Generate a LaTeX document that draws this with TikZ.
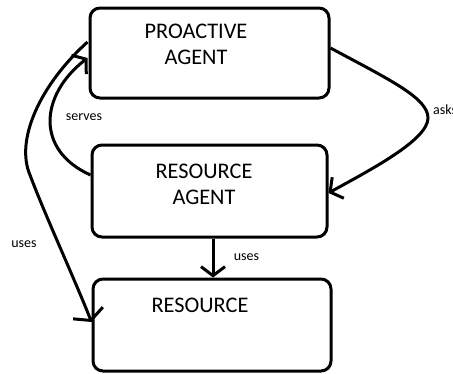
\documentclass[tikz,border=0pt]{standalone}
\usepackage{fontspec}
\setmainfont{Carlito}
\usetikzlibrary{arrows.meta,calc}
\begin{document}
\begin{tikzpicture}[x=1pt,y=-1pt,
  box/.style={draw,line width=3pt,rounded corners=10pt,inner sep=0pt},
  title/.style={inner sep=0pt,font=\fontsize{22.3}{26}\selectfont,align=center},
  lbl/.style={inner sep=0pt,font=\fontsize{14}{16}\selectfont},
  link/.style={line width=3pt,-{Straight Barb[length=9pt,width=24pt]}},
  widelink/.style={line width=3pt,-{Straight Barb[length=8pt,width=32pt]}}]
  \useasboundingbox (0,0) rectangle (453,373);

  % boxes
  \node[box,minimum width=239pt,minimum height=90pt] (pa) at (209.5,53) {};
  \node[box,minimum width=235pt,minimum height=92pt] (ra) at (209.5,191) {};
  \node[box,minimum width=238pt,minimum height=92pt] (res) at (212,325) {};

  % box titles
  \node[title] (patext) at (196,44) {PROACTIVE\\AGENT};
  \node[title] (ratext) at (204,184) {RESOURCE\\AGENT};
  \node[title] (restext) at (200,305) {RESOURCE};

  % anchor points on the box borders
  \coordinate (asksA) at ($(pa.east)+(0,-5)$);
  \coordinate (asksB) at ($(ra.east)+(0,2)$);
  \coordinate (servesA) at ($(ra.west)+(0,-16)$);
  \coordinate (servesB) at ($(pa.west)+(-1,5)$);
  \coordinate (usesA) at ($(pa.west)+(-1,-11)$);
  \coordinate (usesB) at ($(res.west)+(0,-3)$);
  \coordinate (usesMidA) at (ra.south -| 213,0);
  \coordinate (usesMidB) at (res.north -| 213,0);

  % connectors
  \draw[link] (asksA) .. controls (390,80) and (428,98) .. (428,118)
              .. controls (428,140) and (370,170) .. (asksB);
  \draw[link] (servesA) .. controls (35,150) and (40,95) .. (servesB);
  \draw[widelink] (usesA) .. controls (40,85) and (15,140) .. (30,175)
              .. controls (45,215) and (75,280) .. (usesB);
  \draw[link] (usesMidA) -- (usesMidB);

  % connector labels
  \node[lbl,anchor=west] (asks) at (433,110) {asks};
  \node[lbl] (serves) at (84,117) {serves};
  \node[lbl] (usesL) at (24,244) {uses};
  \node[lbl] (usesM) at (246.5,257) {uses};
\end{tikzpicture}
\end{document}
